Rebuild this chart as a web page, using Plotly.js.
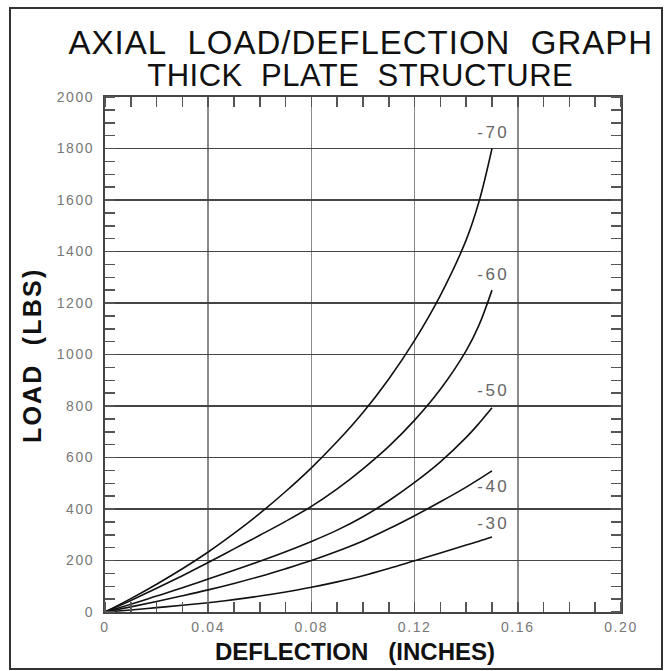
<!DOCTYPE html>
<html>
<head>
<meta charset="utf-8">
<script src="https://cdn.plot.ly/plotly-3.0.1.min.js"></script>
<style>
  html, body { margin: 0; padding: 0; background: #fff; }
  #chart { width: 668px; height: 671px; }
  .xtick text, .ytick text { letter-spacing: 1.6px; }
  .annotation[data-index="0"] text,
  .annotation[data-index="1"] text,
  .annotation[data-index="2"] text,
  .annotation[data-index="3"] text,
  .annotation[data-index="4"] text { letter-spacing: 2.5px; }
  .annotation[data-index="5"] text { letter-spacing: 1px; }
  .annotation[data-index="6"] text { letter-spacing: 0.5px; }
  .annotation[data-index="8"] text { letter-spacing: 2.2px; }
</style>
</head>
<body>
<div id="chart"></div>
<script>
// ---- data ----
const curveNames = ['-70', '-60', '-50', '-40', '-30'];

const deflection = [0, 0.01, 0.02, 0.03, 0.04, 0.05, 0.06, 0.07, 0.08, 0.09, 0.10, 0.11, 0.12, 0.13, 0.14, 0.145, 0.15];

const load70 = [0, 52, 108, 168, 233, 305, 383, 468, 560, 662, 775, 905, 1055, 1230, 1445, 1595, 1800];
const load60 = [0, 45, 92, 141, 192, 245, 298, 352, 410, 478, 556, 643, 745, 865, 1015, 1115, 1250];
const load50 = [0, 30, 62, 94, 128, 162, 197, 234, 274, 318, 370, 432, 503, 583, 678, 733, 793];
const load40 = [0, 20, 41, 63, 86, 111, 138, 168, 200, 236, 276, 323, 374, 428, 485, 516, 548];
const load30 = [0, 8, 17, 26, 36, 48, 62, 78, 96, 117, 141, 169, 199, 229, 260, 275, 291];

const labelX = [0.1505, 0.1505, 0.1505, 0.1505, 0.1505];
const labelY = [1861, 1309, 859, 487, 344];

const xTickVals = [0, 0.04, 0.08, 0.12, 0.16, 0.20];
const xTickText = ['0', '0.04', '0.08', '0.12', '0.16', '0.20'];
const yTickVals = [0, 200, 400, 600, 800, 1000, 1200, 1400, 1600, 1800, 2000];
const yTickText = ['0', '200', '400', '600', '800', '1000', '1200', '1400', '1600', '1800', '2000'];

const titleLine1 = 'AXIAL\u00A0\u00A0LOAD/DEFLECTION\u00A0\u00A0GRAPH';
const titleLine2 = 'THICK\u00A0\u00A0PLATE\u00A0\u00A0STRUCTURE';
const xTitle = 'DEFLECTION\u00A0\u00A0\u00A0(INCHES)';
const yTitle = 'LOAD\u00A0\u00A0(LBS)';

// ---- build ----
const loads = [load70, load60, load50, load40, load30];

const traces = loads.map((yv, i) => ({
  type: 'scatter',
  mode: 'lines',
  x: deflection,
  y: yv,
  name: curveNames[i],
  line: { color: '#111', width: 1.6, shape: 'spline', smoothing: 1 },
  hoverinfo: 'skip'
}));

const W = 668, H = 671;
const L = 105, R = 47, T = 97, B = 59;
const pw = W - L - R, ph = H - T - B;
const px = v => (v - L) / pw;
const py = v => (H - B - v) / ph;

const FONT = 'Liberation Sans, Arial, sans-serif';
const tickFont = { family: FONT, size: 14, color: '#777' };

const annotations = curveNames.map((n, i) => ({
  x: labelX[i], y: labelY[i], xref: 'x', yref: 'y',
  text: n, showarrow: false,
  xanchor: 'center', yanchor: 'middle',
  font: { family: FONT, size: 17, color: '#666' }
}));
annotations.push({
  x: px(361), y: py(43), xref: 'paper', yref: 'paper',
  text: titleLine1, showarrow: false, xanchor: 'center', yanchor: 'middle',
  font: { family: FONT, size: 33, color: '#111' }
});
annotations.push({
  x: px(360), y: py(76), xref: 'paper', yref: 'paper',
  text: titleLine2, showarrow: false, xanchor: 'center', yanchor: 'middle',
  font: { family: FONT, size: 31, color: '#111' }
});
annotations.push({
  x: px(355), y: py(651), xref: 'paper', yref: 'paper',
  text: xTitle, showarrow: false, xanchor: 'center', yanchor: 'middle',
  font: { family: FONT, size: 24, color: '#111', weight: 'bold' }
});
annotations.push({
  x: px(32), y: py(356), xref: 'paper', yref: 'paper',
  text: yTitle, showarrow: false, xanchor: 'center', yanchor: 'middle', textangle: -90,
  font: { family: FONT, size: 25, color: '#111', weight: 'bold' }
});

const layout = {
  width: W, height: H,
  margin: { l: L, r: R, t: T, b: B },
  paper_bgcolor: '#fff', plot_bgcolor: '#fff',
  showlegend: false,
  xaxis: {
    range: [0, 0.2], tickvals: xTickVals, ticktext: xTickText,
    showgrid: true, gridcolor: '#8a8a8a', gridwidth: 1.5,
    zeroline: false, showline: true, linecolor: '#444', linewidth: 2, mirror: 'allticks',
    ticks: '', tickfont: tickFont, ticklabelstandoff: 1,
    minor: { dtick: 0.01, ticks: 'inside', ticklen: 10, tickcolor: '#555', tickwidth: 1.5, showgrid: false },
    fixedrange: true
  },
  yaxis: {
    range: [0, 2000], tickvals: yTickVals, ticktext: yTickText,
    showgrid: true, gridcolor: '#444', gridwidth: 1.8,
    zeroline: false, showline: true, linecolor: '#444', linewidth: 2, mirror: 'allticks',
    ticks: '', tickfont: tickFont, ticklabelstandoff: 6,
    minor: { dtick: 50, ticks: 'inside', ticklen: 10, tickcolor: '#555', tickwidth: 1.5, showgrid: false },
    fixedrange: true
  },
  annotations: annotations,
  shapes: [{
    type: 'rect', xref: 'paper', yref: 'paper',
    x0: px(10), x1: px(662), y0: py(669), y1: py(8),
    line: { color: '#333', width: 2 }, layer: 'below'
  }]
};

Plotly.newPlot('chart', traces, layout, { displayModeBar: false, staticPlot: true });
</script>
</body>
</html>
